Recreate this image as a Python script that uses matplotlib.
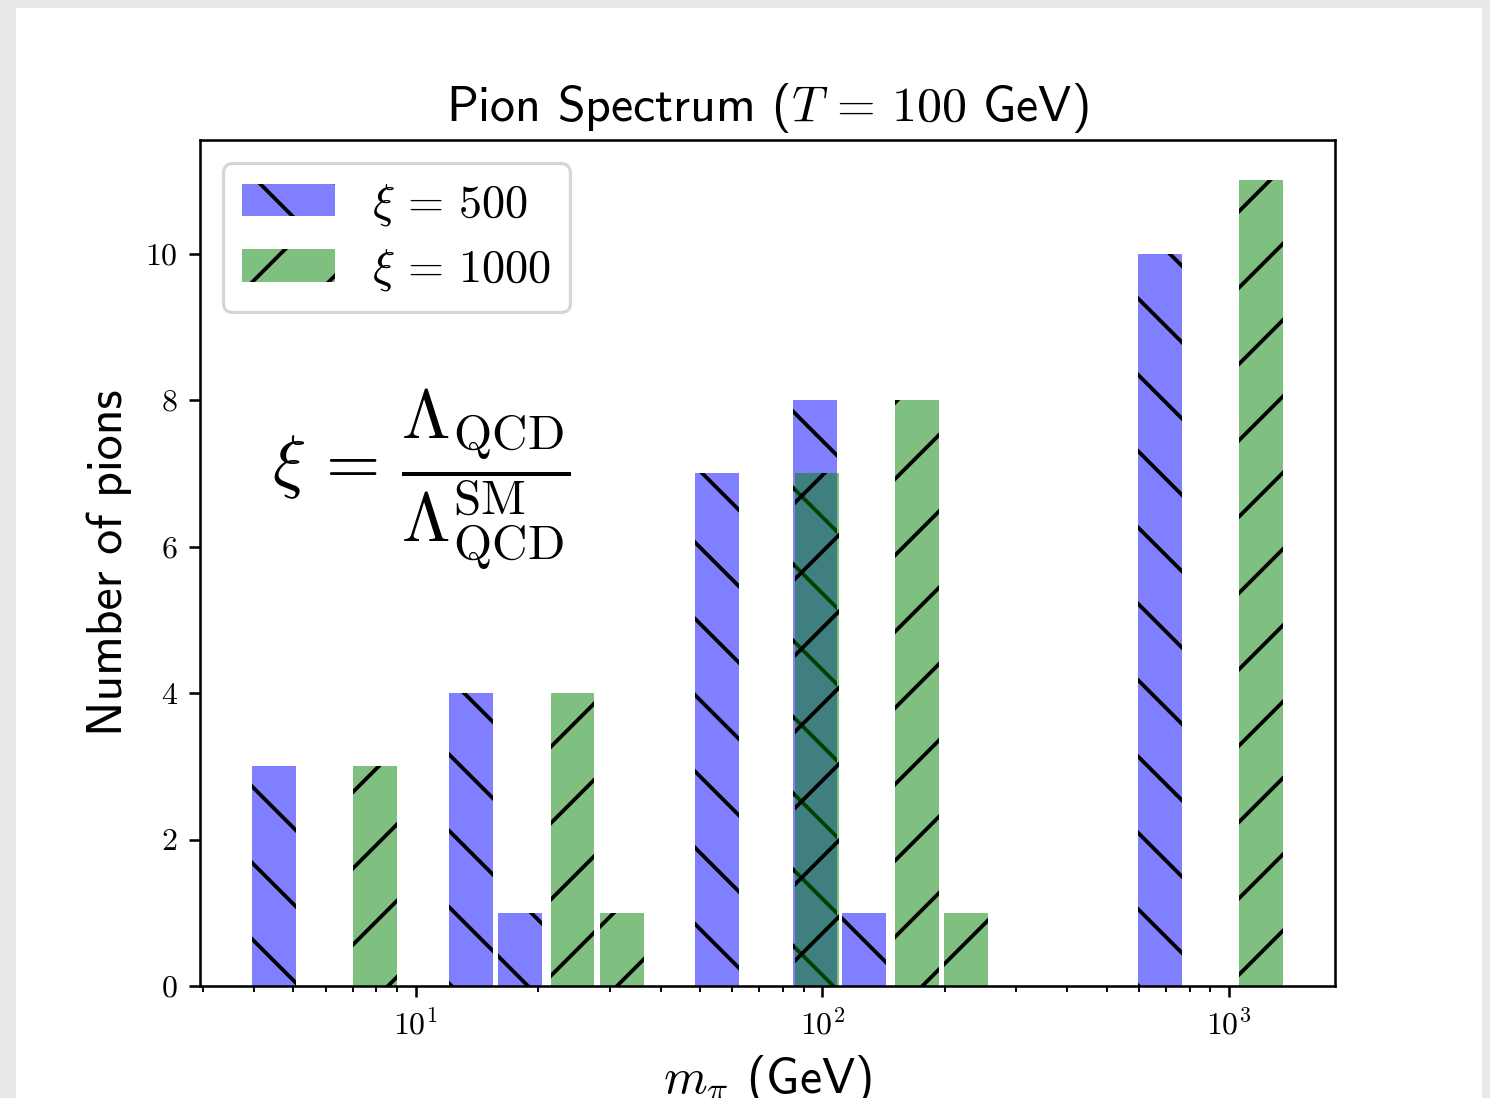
import numpy as np
import matplotlib
matplotlib.use("Agg")
import matplotlib.pyplot as plt
from matplotlib.patches import Rectangle

# pion masses (GeV, bar centres) and counts
masses_500 = [4.47, 13.7, 18.05, 54.95, 96.1, 126.8, 675.0]
counts_500 = [3, 4, 1, 7, 8, 1, 10]
masses_1000 = [7.93, 24.3, 32.1, 97.2, 170.6, 225.6, 1202.0]
counts_1000 = [3, 4, 1, 7, 8, 1, 11]
labels = [r"$\xi \,=\, 500$", r"$\xi \,=\, 1000$"]

DPI = 229
BAR_DEX = 0.108  # bar width in decades

plt.rcParams["font.family"] = "cmr10"
plt.rcParams["mathtext.fontset"] = "cm"
plt.rcParams["axes.formatter.use_mathtext"] = True
plt.rcParams["axes.unicode_minus"] = False
plt.rcParams["hatch.linewidth"] = 1.2
plt.rcParams["hatch.color"] = "black"

fig = plt.figure(figsize=(1490 / DPI, 1098 / DPI), dpi=DPI, facecolor="#e8e8e8")
# white page inside the grey viewer frame
fig.patches.append(Rectangle((16 / 1490, 0), 1466 / 1490, 1090 / 1098,
                             transform=fig.transFigure, facecolor="white",
                             edgecolor="none", zorder=-10))

ax = fig.add_axes([200 / 1490, 112 / 1098, 1135 / 1490, 846 / 1098])
ax.set_xscale("log")


def edges(masses):
    m = np.asarray(masses, dtype=float)
    left = m / 10 ** (BAR_DEX / 2)
    right = m * 10 ** (BAR_DEX / 2)
    return left, right - left


left, width = edges(masses_500)
ax.bar(left, counts_500, width=width, align="edge", facecolor=(0, 0, 1, 0.5),
       edgecolor="black", linewidth=0, hatch="\\", label=labels[0])
left, width = edges(masses_1000)
ax.bar(left, counts_1000, width=width, align="edge", facecolor=(0, 0.5, 0, 0.5),
       edgecolor="black", linewidth=0, hatch="/", label=labels[1])

ax.set_yticks([0, 2, 4, 6, 8, 10])

label_size = 15.7
ax.set_title(r"Pion Spectrum ($T \,=\, 100$ GeV)", fontfamily="cmss10", fontsize=label_size)
ax.set_xlabel(r"$m_\pi$ (GeV)", fontfamily="cmss10", fontsize=label_size)
ax.set_ylabel("Number of pions", fontfamily="cmss10", fontsize=label_size)

leg = ax.legend(loc="upper left", fontsize=14.6, labelspacing=0.42)

ax.text(0.063, 0.599,
        r"$\xi \,=\, \dfrac{\Lambda_{\rm QCD}}{\Lambda_{\rm QCD}^{\rm SM}}$",
        transform=ax.transAxes, ha="left", va="center", fontsize=22)

fig.savefig("out.png", dpi=DPI, facecolor=fig.get_facecolor())
